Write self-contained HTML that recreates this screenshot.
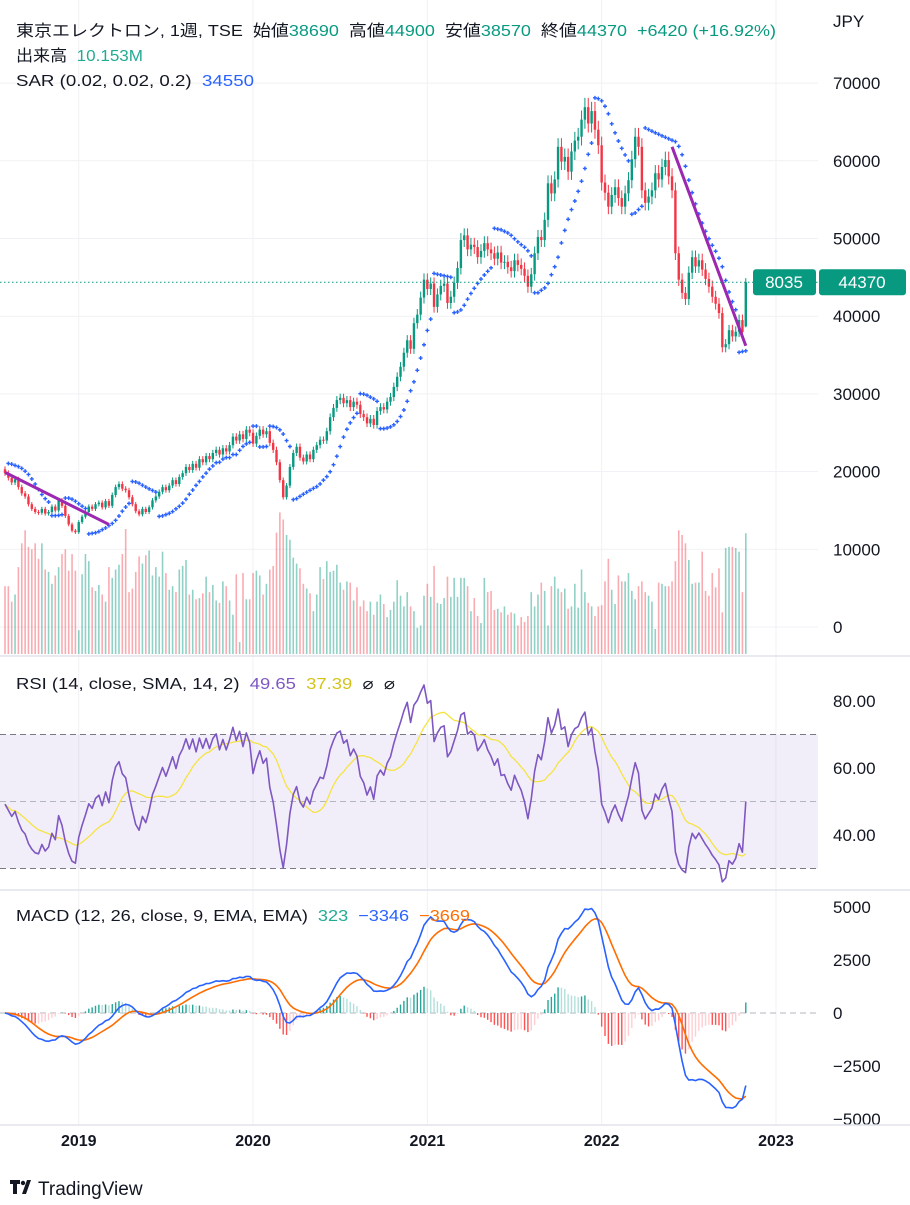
<!DOCTYPE html>
<html><head><meta charset="utf-8">
<style>
html,body{margin:0;padding:0;background:#fff;}
body{width:910px;height:1200px;overflow:hidden;font-family:"Liberation Sans","Noto Sans CJK JP",sans-serif;}
svg text{font-family:"Liberation Sans","Noto Sans CJK JP",sans-serif;white-space:pre;}
</style></head>
<body>
<svg id="chart" width="910" height="1200" viewBox="0 0 910 1200" xmlns="http://www.w3.org/2000/svg">
<g id="grid"></g>
<g id="main"></g>
<g id="rsi"></g>
<g id="macd"></g>
<g id="axes"></g>
<g font-size="16" fill="#131722">
<text x="16" y="36" textLength="760" lengthAdjust="spacingAndGlyphs">東京エレクトロン, 1週, TSE  始値<tspan fill="#089981">38690</tspan>  高値<tspan fill="#089981">44900</tspan>  安値<tspan fill="#089981">38570</tspan>  終値<tspan fill="#089981">44370</tspan>  <tspan fill="#089981">+6420 (+16.92%)</tspan></text>
<text x="16" y="61" textLength="127" lengthAdjust="spacingAndGlyphs">出来高  <tspan fill="#22ab94">10.153M</tspan></text>
<text x="16" y="86" textLength="238" lengthAdjust="spacingAndGlyphs">SAR (0.02, 0.02, 0.2)  <tspan fill="#2962ff">34550</tspan></text>
<text x="16" y="689" textLength="379" lengthAdjust="spacingAndGlyphs">RSI (14, close, SMA, 14, 2)  <tspan fill="#7e57c2">49.65</tspan>  <tspan fill="#d4c21a">37.39</tspan>  ⌀  ⌀</text>
<text x="16" y="921" textLength="454" lengthAdjust="spacingAndGlyphs">MACD (12, 26, close, 9, EMA, EMA)  <tspan fill="#22ab94">323</tspan>  <tspan fill="#2962ff">−3346</tspan>  <tspan fill="#ff6d00">−3669</tspan></text>
<text x="833" y="27" font-size="17">JPY</text>
</g>
<g>
<path d="M10 1180h10v4h-3v10h-4v-10h-3z M22 1194l5-14h4l-5 14z" fill="#131722"/>
<circle cx="23" cy="1183" r="2.2" fill="#131722"/>
<text x="38" y="1195" font-size="19" fill="#131722">TradingView</text>
</g>
</svg>
<script>
const closes=[19800,19200,18600,19000,18000,17200,16800,15800,15200,14800,
14700,15200,14600,14800,15500,15000,16300,15600,14300,13200,
12400,12200,13500,14200,14800,15500,15200,15800,16000,15400,
16200,15600,17000,18000,18400,17800,17600,16700,15800,14900,
14500,15200,14800,15400,16300,16800,17400,18000,17600,18200,
18900,18400,19300,19800,20600,20200,21000,20500,21600,21200,
22000,21600,22400,22800,22200,23000,22600,23400,24500,24000,
24800,24200,25400,25000,23600,24600,25400,24800,25200,23700,
22800,21200,18900,16700,18200,20600,22400,23200,21800,21300,
22200,21600,22800,23400,24100,24000,25200,27000,28200,29200,
29500,28800,29200,28300,29000,28600,27400,27000,26200,26800,
26000,27800,28300,28000,29000,29600,30900,32200,33500,35300,
36900,35800,39100,40200,42400,44700,43500,44200,41200,42800,
43900,44200,41700,42500,44300,46200,49800,50400,48600,49200,
48900,47600,48400,49400,48600,48100,47400,48200,46900,47000,
46300,45800,47200,46600,46100,45200,43800,45400,48100,50200,
49800,52400,57100,55800,57600,61800,59900,60500,58600,61200,
62600,63100,65300,66900,64800,66400,64000,62000,57200,55900,
54100,55600,56600,55200,54100,55800,57500,60200,63100,61800,
56200,54600,55400,56200,58400,57600,59200,60100,58000,56200,
48100,44700,43000,42200,45600,47600,46400,47200,46000,44800,
43800,42500,41600,40400,36000,36400,38200,37400,38000,39500,
37950,44370];
const volumes=[5.7,5.7,4.4,5.0,7.3,9.3,10.4,9.0,8.8,9.3,8.0,9.3,7.1,6.9,5.9,6.6,7.3,8.4,8.8,7.0,
8.4,7.0,2.0,6.7,8.4,7.8,5.6,5.3,5.8,5.0,4.4,7.3,6.4,7.1,7.5,8.4,10.5,5.2,5.5,6.9,
8.2,7.6,8.3,8.7,6.6,7.3,6.5,8.6,6.8,5.4,5.7,5.2,7.1,7.4,7.9,5.0,5.4,4.6,4.7,5.1,
6.5,5.2,5.8,4.5,4.3,6.1,5.7,4.5,3.3,6.7,1.0,6.8,4.6,4.6,6.8,7.0,6.6,5.0,5.9,7.1,
7.4,10.2,11.9,11.3,10.0,9.6,8.1,7.6,7.2,5.9,5.5,5.1,3.6,5.0,7.3,6.3,7.8,6.9,7.0,7.5,
6.0,5.4,6.1,6.0,4.5,5.6,4.0,4.5,3.6,
4.4,3.3,4.4,5.0,4.2,3.1,3.7,4.4,6.2,4.9,4.0,5.2,4.0,3.6,2.2,2.4,4.9,5.9,4.8,7.4,
4.3,4.2,4.7,6.5,4.8,6.4,4.8,6.4,6.4,5.7,3.6,4.7,3.2,2.6,6.4,5.2,5.3,3.7,3.8,3.5,
4.0,3.3,3.5,3.4,2.4,3.1,2.7,3.2,5.2,4.0,5.0,6.0,5.3,2.4,5.7,6.5,5.5,5.2,5.5,3.8,
4.0,5.9,3.9,7.1,5.2,4.3,4.0,3.2,4.0,4.1,6.1,8.0,5.4,4.2,6.6,6.1,6.1,6.8,5.3,4.6,
5.7,6.1,5.2,4.9,4.4,2.1,6.0,5.9,5.7,5.7,6.1,7.8,10.4,10.0,9.3,7.9,5.9,6.0,6.0,8.6,
5.3,4.9,6.8,5.6,7.2,3.5,8.9,9.0,9.0,8.9,8.6,5.2,10.15];
const firstOpen=20300;
const lastHigh=44900, lastLow=38570, lastOpen=38690;
const yearLabels=["2019","2020","2021","2022","2023"];
const yearIndex=[22,74,126,178,230];
const priceTicks=[0,10000,20000,30000,40000,50000,60000,70000];
const rsiTicks=["40.00","60.00","80.00"];
const macdTicks=[-5000,-2500,0,2500,5000];
const trendLines=[[0,19900,31,13200],[199,61800,221,36200]];

const NS="http://www.w3.org/2000/svg";
function mk(tag,attrs,parent){const e=document.createElementNS(NS,tag);for(const k in attrs)e.setAttribute(k,attrs[k]);parent.appendChild(e);return e;}
const N=closes.length;
const xOf=i=>5+i*3.352;
const yP=v=>627-v*0.00777;
const yV=v=>654-v*11.9;
const yR=v=>835-(v-40)*3.35;
const yM=v=>1013-v*0.0212;
const PLOT_R=818;

const grid=document.getElementById('grid');
const axes=document.getElementById('axes');
const main=document.getElementById('main');
const rsiG=document.getElementById('rsi');
const macdG=document.getElementById('macd');

yearIndex.forEach((ix,k)=>{
  const l=mk('line',{x1:xOf(ix),x2:xOf(ix),y1:0,y2:1125,stroke:'#f0f1f4','stroke-width':1},grid);
  
  
  const t=mk('text',{x:xOf(ix),y:1146,'text-anchor':'middle','font-size':16,'font-weight':'bold',fill:'#131722'},axes);
  t.textContent=yearLabels[k];
  
  
});
priceTicks.forEach(v=>{
  const l=mk('line',{x1:0,x2:PLOT_R,y1:yP(v),y2:yP(v),stroke:'#f0f1f4'},grid);
  
  
  const t=mk('text',{x:833,y:yP(v)+6,'font-size':17,fill:'#131722'},axes);
  t.textContent=v;
  
  
});
rsiTicks.forEach(s=>{
  const v=parseFloat(s);
  const t=mk('text',{x:833,y:yR(v)+6,'font-size':17,fill:'#131722'},axes);
  t.textContent=s;
  
  
});
macdTicks.forEach(v=>{
  const t=mk('text',{x:833,y:yM(v)+6,'font-size':17,fill:'#131722'},axes);
  t.textContent=v<0?'−'+Math.abs(v):String(v);
  
  
});
[656,890,1125].forEach(y=>{
  const l=mk('line',{x1:0,x2:910,y1:y,y2:y,stroke:'#e0e3eb','stroke-width':1.5},axes);
  
  
});

const opens=closes.map((c,i)=>i===0?firstOpen:(i===N-1?lastOpen:closes[i-1]));
const highs=closes.map((c,i)=>i===N-1?lastHigh:Math.max(c,opens[i])*1.018);
const lows=closes.map((c,i)=>i===N-1?lastLow:Math.min(c,opens[i])*0.982);

volumes.forEach((v,i)=>{
  const up=closes[i]>=opens[i];
  const r=mk('rect',{x:xOf(i)-0.8,y:yV(v),width:1.6,height:654-yV(v),fill:up?'rgba(8,153,129,0.45)':'rgba(242,54,69,0.42)'},main);
  
  
});

closes.forEach((c,i)=>{
  const up=c>=opens[i];const col=up?'#089981':'#f23645';const x=xOf(i);
  const w=mk('line',{x1:x,x2:x,y1:yP(highs[i]),y2:yP(lows[i]),stroke:col,'stroke-width':1},main);
  
  
  const t=Math.min(yP(c),yP(opens[i]));const h=Math.max(1,Math.abs(yP(c)-yP(opens[i])));
  const b=mk('rect',{x:x-1.2,y:t,width:2.4,height:h,fill:col},main);
  
  
});

(function(){
  let up=false,af=0.02,ep=lows[0],sar=highs[0]*1.02;
  for(let i=1;i<N;i++){
    sar=sar+af*(ep-sar);
    if(up){
      sar=Math.min(sar,lows[i-1],i>1?lows[i-2]:lows[i-1]);
      if(lows[i]<sar){up=false;sar=ep;ep=lows[i];af=0.02;}
      else if(highs[i]>ep){ep=highs[i];af=Math.min(0.2,af+0.02);}
    }else{
      sar=Math.max(sar,highs[i-1],i>1?highs[i-2]:highs[i-1]);
      if(highs[i]>sar){up=true;sar=ep;ep=highs[i];af=0.02;}
      else if(lows[i]<ep){ep=lows[i];af=Math.min(0.2,af+0.02);}
    }
    const x=xOf(i),y=yP(sar);
    const p=mk('path',{d:`M${x-2} ${y}h4M${x} ${y-2}v4`,stroke:'#2962ff','stroke-width':1.4},main);
    
    
  }
})();

trendLines.forEach(t=>{
  const l=mk('line',{x1:xOf(t[0]),y1:yP(t[1]),x2:xOf(t[2]),y2:yP(t[3]),stroke:'#9c27b0','stroke-width':3},main);
  
  
});

const lastC=closes[N-1];
const pl=mk('line',{x1:0,x2:PLOT_R,y1:yP(lastC),y2:yP(lastC),stroke:'#089981','stroke-width':1,'stroke-dasharray':'1.5 2.5'},main);


const lb1=mk('rect',{x:753,y:yP(lastC)-13,width:63,height:26,rx:3,fill:'#089981'},main);


const lt1=mk('text',{x:784,y:yP(lastC)+6,'text-anchor':'middle','font-size':17,fill:'#fff'},main);lt1.textContent='8035';


const lb2=mk('rect',{x:819,y:yP(lastC)-13,width:87,height:26,rx:3,fill:'#089981'},main);


const lt2=mk('text',{x:862,y:yP(lastC)+6,'text-anchor':'middle','font-size':17,fill:'#fff'},main);lt2.textContent=String(lastC);



// RSI
const band=mk('rect',{x:0,y:yR(70),width:PLOT_R,height:yR(30)-yR(70),fill:'rgba(126,87,194,0.1)'},rsiG);


[[70,'#787b86','6 4'],[50,'#b2b5be','6 4'],[30,'#787b86','6 4']].forEach(d=>{
  const l=mk('line',{x1:0,x2:PLOT_R,y1:yR(d[0]),y2:yR(d[0]),stroke:d[1],'stroke-dasharray':d[2]},rsiG);
  
  
});
const rsi=[];
(function(){
  // seed Wilder averages with a neutral typical weekly move so the series starts near 50
  let ag=closes[0]*0.03,al=closes[0]*0.031;
  for(let i=0;i<N;i++){
    if(i>0){
      const ch=closes[i]-closes[i-1];const g=Math.max(ch,0),l=Math.max(-ch,0);
      ag=(ag*13+g)/14;al=(al*13+l)/14;
    }
    rsi.push(al===0?100:100-100/(1+ag/al));
  }
})();
const rsiSma=rsi.map((v,i)=>{const s=rsi.slice(Math.max(0,i-13),i+1);return s.reduce((a,b)=>a+b,0)/s.length;});
function poly(arr,yf,col,w,parent,name){
  const p=mk('polyline',{points:arr.map((v,i)=>xOf(i).toFixed(1)+','+yf(v).toFixed(1)).join(' '),fill:'none',stroke:col,'stroke-width':w,'stroke-linejoin':'round'},parent);
  
  
}
poly(rsiSma,yR,'#f5e342',1.3,rsiG,'rsi-sma-line');
poly(rsi,yR,'#7e57c2',1.6,rsiG,'rsi-line');

// MACD
const ema=(arr,n)=>{const k=2/(n+1);const o=[];arr.forEach((v,i)=>o.push(i===0?v:v*k+o[i-1]*(1-k)));return o;};
const e12=ema(closes,12),e26=ema(closes,26);
const macd=e12.map((v,i)=>v-e26[i]);
const sig=ema(macd,9);
const hist=macd.map((v,i)=>v-sig[i]);
const zl=mk('line',{x1:0,x2:PLOT_R,y1:yM(0),y2:yM(0),stroke:'#b2b5be','stroke-dasharray':'6 4'},macdG);


hist.forEach((h,i)=>{
  const prev=i>0?hist[i-1]:0;
  const col=h>=0?(h>=prev?'#26a69a':'#b2dfdb'):(h<prev?'#ff5252':'#ffcdd2');
  const y=Math.min(yM(h),yM(0));
  const r=mk('rect',{x:xOf(i)-0.7,y:y,width:1.4,height:Math.max(0.5,Math.abs(yM(h)-yM(0))),fill:col},macdG);
  
  
});
poly(sig,yM,'#ff6d00',1.6,macdG,'macd-signal-line');
poly(macd,yM,'#2962ff',1.6,macdG,'macd-line');
</script>
</body></html>
